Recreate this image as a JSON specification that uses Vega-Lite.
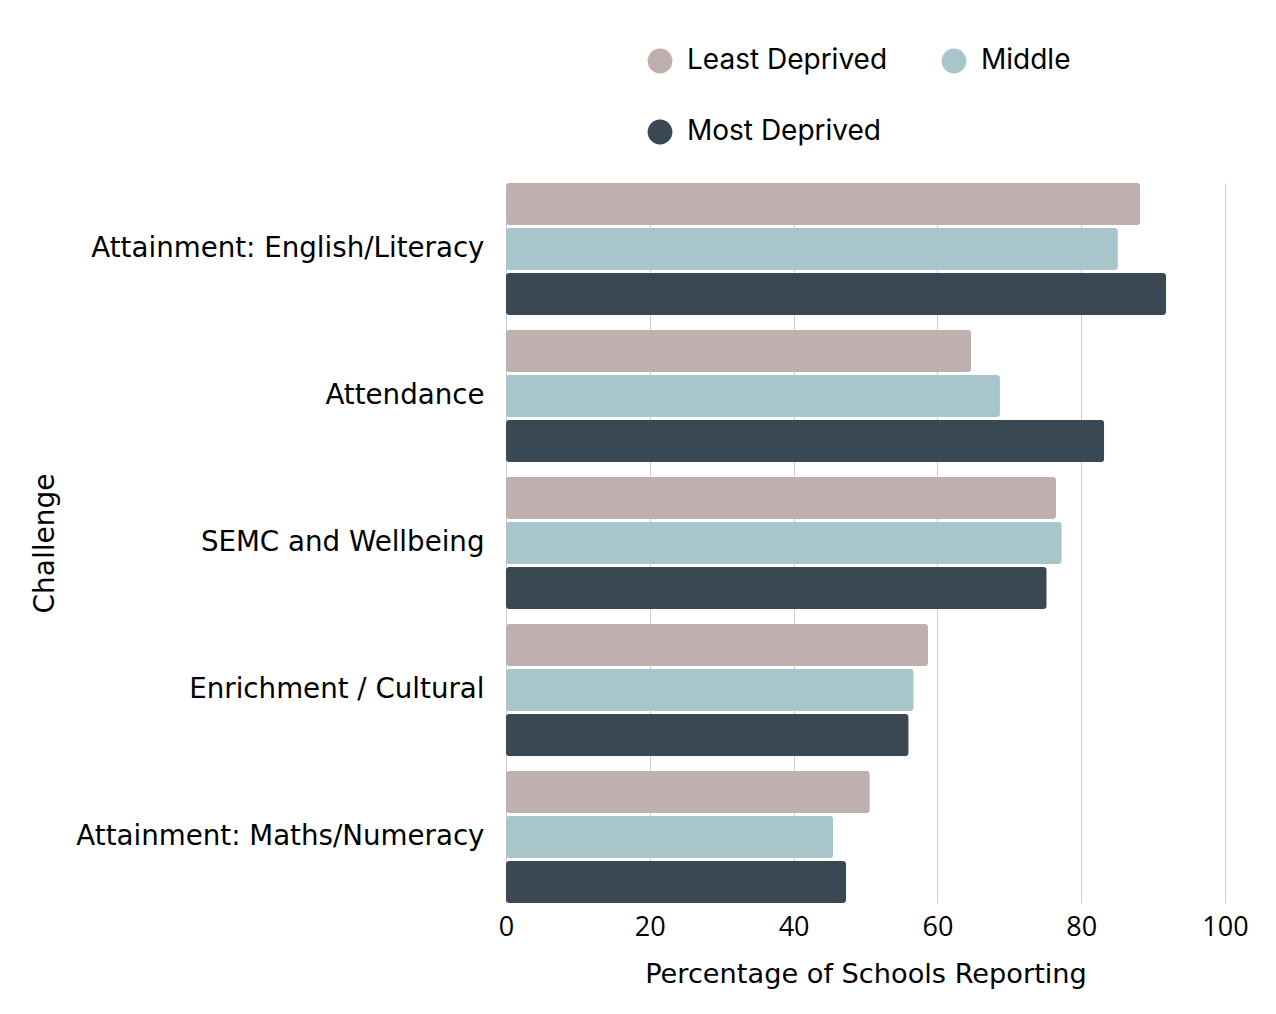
{
  "$schema": "https://vega.github.io/schema/vega-lite/v6.json",
  "autosize": "none",
  "width": 719,
  "height": 720,
  "padding": {"left": 506, "top": 183, "right": 51, "bottom": 111},
  "background": "white",
  "data": {
    "values": [
      {"challenge": "Attainment: English/Literacy", "group": "Least Deprived", "pct": 88.2},
      {"challenge": "Attainment: English/Literacy", "group": "Middle", "pct": 85.1},
      {"challenge": "Attainment: English/Literacy", "group": "Most Deprived", "pct": 91.8},
      {"challenge": "Attendance", "group": "Least Deprived", "pct": 64.7},
      {"challenge": "Attendance", "group": "Middle", "pct": 68.7},
      {"challenge": "Attendance", "group": "Most Deprived", "pct": 83.2},
      {"challenge": "SEMC and Wellbeing", "group": "Least Deprived", "pct": 76.5},
      {"challenge": "SEMC and Wellbeing", "group": "Middle", "pct": 77.3},
      {"challenge": "SEMC and Wellbeing", "group": "Most Deprived", "pct": 75.2},
      {"challenge": "Enrichment / Cultural", "group": "Least Deprived", "pct": 58.7},
      {"challenge": "Enrichment / Cultural", "group": "Middle", "pct": 56.7},
      {"challenge": "Enrichment / Cultural", "group": "Most Deprived", "pct": 56.0},
      {"challenge": "Attainment: Maths/Numeracy", "group": "Least Deprived", "pct": 50.6},
      {"challenge": "Attainment: Maths/Numeracy", "group": "Middle", "pct": 45.5},
      {"challenge": "Attainment: Maths/Numeracy", "group": "Most Deprived", "pct": 47.3}
    ]
  },
  "mark": {"type": "bar", "cornerRadius": 3},
  "encoding": {
    "y": {
      "field": "challenge",
      "type": "nominal",
      "sort": ["Attainment: English/Literacy", "Attendance", "SEMC and Wellbeing", "Enrichment / Cultural", "Attainment: Maths/Numeracy"],
      "scale": {"paddingInner": 0.102, "paddingOuter": 0},
      "axis": {
        "title": "Challenge",
        "labelFontSize": 27.7,
        "labelFont": "DejaVu Sans",
        "labelPadding": 22,
        "labelLimit": 0,
        "titleFont": "DejaVu Sans",
        "titleFontSize": 28,
        "titleFontWeight": "normal",
        "titleX": -461,
        "titleY": 360,
        "titleAngle": -90,
        "titleAlign": "center",
        "titleBaseline": "middle",
        "ticks": false,
        "domain": false,
        "grid": false
      }
    },
    "yOffset": {
      "field": "group",
      "type": "nominal",
      "sort": ["Least Deprived", "Middle", "Most Deprived"],
      "scale": {"paddingInner": 0.0667, "paddingOuter": 0}
    },
    "x": {
      "field": "pct",
      "type": "quantitative",
      "scale": {"domain": [0, 100], "nice": false},
      "axis": {
        "title": "Percentage of Schools Reporting",
        "values": [0, 20, 40, 60, 80, 100],
        "labelFontSize": 27,
        "labelPadding": 11,
        "labelFlush": false,
        "labelAlign": "center",
        "titleFont": "DejaVu Sans",
        "titleFontSize": 27.2,
        "titleFontWeight": "normal",
        "titlePadding": 21,
        "ticks": false,
        "domain": false,
        "grid": true,
        "gridColor": "#cccccc",
        "gridWidth": 1
      }
    },
    "color": {
      "field": "group",
      "type": "nominal",
      "sort": ["Least Deprived", "Middle", "Most Deprived"],
      "scale": {
        "domain": ["Least Deprived", "Middle", "Most Deprived"],
        "range": ["#bfafae", "#a7c5ca", "#3a4853"]
      },
      "legend": {
        "title": null,
        "orient": "none",
        "legendX": 140,
        "legendY": -136,
        "direction": "horizontal",
        "columns": 2,
        "symbolType": "circle",
        "symbolSize": 615,
        "symbolOpacity": 1,
        "labelFontSize": 28,
        "labelFont": "Inter",
        "labelLimit": 0,
        "labelOffset": 13,
        "columnPadding": 52,
        "rowPadding": 43,
        "labelColor": "black"
      }
    }
  },
  "config": {
    "font": "Open Sans",
    "view": {"stroke": null},
    "axis": {"labelColor": "black", "titleColor": "black"}
  }
}
